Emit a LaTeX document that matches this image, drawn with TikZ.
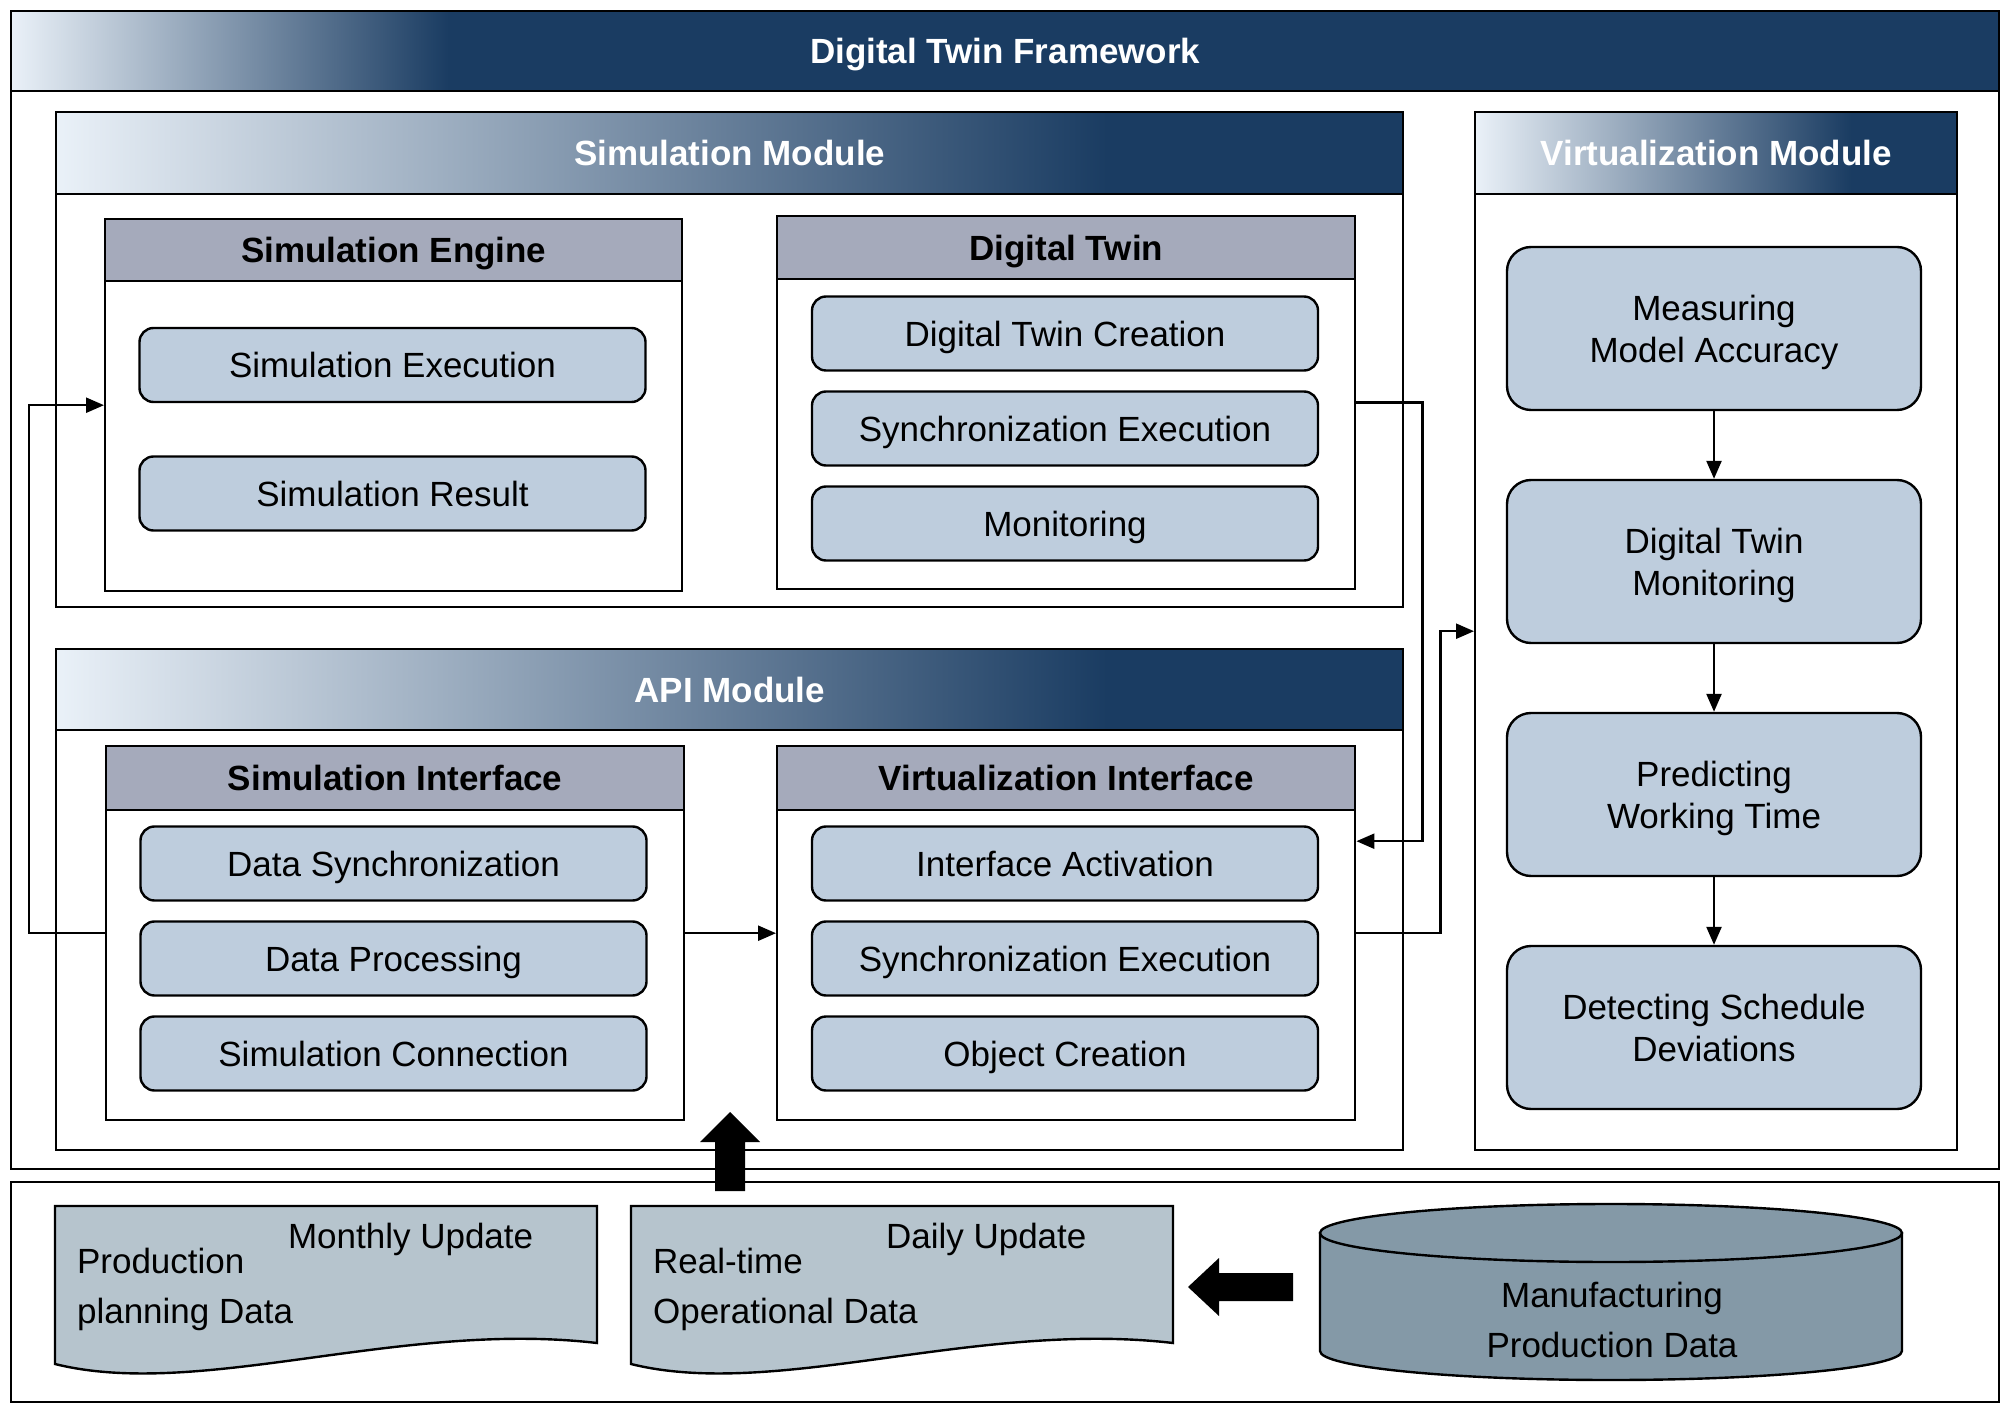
\documentclass[tikz,border=0pt]{standalone}
\usepackage{fontspec}
\setmainfont{Liberation Sans}
\usepackage{tikz}
\usetikzlibrary{arrows.meta, positioning}

\definecolor{hdrlight}{RGB}{234,241,248}
\definecolor{hdrdark}{RGB}{26,60,98}
\definecolor{hdrgrey}{RGB}{165,170,187}
\definecolor{itemfill}{RGB}{190,205,221}
\definecolor{docfill}{RGB}{182,196,205}
\definecolor{cylfill}{RGB}{132,153,167}

\pgfdeclarehorizontalshading{topshade}{100bp}{color(0bp)=(hdrlight); color(25bp)=(hdrlight); color(36bp)=(hdrdark); color(100bp)=(hdrdark)}
\pgfdeclarehorizontalshading{modshade}{100bp}{color(0bp)=(hdrlight); color(25bp)=(hdrlight); color(64bp)=(hdrdark); color(100bp)=(hdrdark)}

\tikzset{
	every node/.style={font=\fontsize{17.5}{21}\selectfont, text depth=0pt},
	box/.style={draw, line width=1.2pt, anchor=north west, inner sep=0pt},
	tophdr/.style={shading=topshade, text=white, font=\fontsize{17.5}{21}\selectfont\bfseries},
	modhdr/.style={shading=modshade, text=white, font=\fontsize{17.5}{21}\selectfont\bfseries},
	subhdr/.style={fill=hdrgrey, font=\fontsize{17.5}{21}\selectfont\bfseries},
	item/.style={draw, line width=1.2pt, fill=itemfill, rounded corners=7pt, minimum width=253pt, minimum height=37pt, inner sep=0pt},
	stage/.style={item, rounded corners=12pt, minimum width=207pt, minimum height=81.5pt, align=center},
	doc/.style={draw, line width=1.2pt, fill=docfill},
	conn/.style={line width=1.2pt, -{Triangle[length=9pt, width=7.5pt]}}
}

\begin{document}
\begin{tikzpicture}[x=0.5pt, y=-0.5pt]
	\useasboundingbox (0,0) rectangle (2008,1411);
	
	\node[box, minimum width=994pt, minimum height=579pt] (dtf) at (10,10) {};
	\node[box, tophdr, minimum width=994pt, minimum height=40pt] (dtfhdr) at (10,10) {Digital Twin Framework};
	
	\node[box, minimum width=673.5pt, minimum height=247.5pt] (simmod) at (55,111) {};
	\node[box, modhdr, minimum width=673.5pt, minimum height=41pt] (simmodhdr) at (55,111) {Simulation Module};
	
	\node[box, minimum width=288.5pt, minimum height=186pt] (simeng) at (104,218) {};
	\node[box, subhdr, minimum width=288.5pt, minimum height=31pt] (simenghdr) at (104,218) {Simulation Engine};
	\foreach \t [count=\i] in {Simulation Execution, Simulation Result}
	\node[item] (se\i) at (392.5, 236.5+128.5*\i) {\t};
	
	\node[box, minimum width=289pt, minimum height=186.5pt] (dtwin) at (776,215) {};
	\node[box, subhdr, minimum width=289pt, minimum height=31.5pt] (dtwinhdr) at (776,215) {Digital Twin};
	\foreach \t [count=\i] in {Digital Twin Creation, Synchronization Execution, Monitoring}
	\node[item] (dt\i) at (1065, 238.5+95*\i) {\t};
	
	\node[box, minimum width=673.5pt, minimum height=250.5pt] (apimod) at (55,648) {};
	\node[box, modhdr, minimum width=673.5pt, minimum height=40.5pt] (apimodhdr) at (55,648) {API Module};
	
	\node[box, minimum width=289pt, minimum height=187pt] (simif) at (105,745) {};
	\node[box, subhdr, minimum width=289pt, minimum height=32pt] (simifhdr) at (105,745) {Simulation Interface};
	\foreach \t [count=\i] in {Data Synchronization, Data Processing, Simulation Connection}
	\node[item] (si\i) at (393.5, 768.5+95*\i) {\t};
	
	\node[box, minimum width=289pt, minimum height=187pt] (virtif) at (776,745) {};
	\node[box, subhdr, minimum width=289pt, minimum height=32pt] (virtifhdr) at (776,745) {Virtualization Interface};
	\foreach \t [count=\i] in {Interface Activation, Synchronization Execution, Object Creation}
	\node[item] (vi\i) at (1065, 768.5+95*\i) {\t};
	
	\node[box, minimum width=241pt, minimum height=519pt] (vmod) at (1474,111) {};
	\node[box, modhdr, minimum width=241pt, minimum height=41pt] (vmodhdr) at (1474,111) {Virtualization Module};
	\foreach \t [count=\i] in {{Measuring\\Model Accuracy}, {Digital Twin\\Monitoring}, {Predicting\\Working Time}, {Detecting Schedule\\Deviations}}
	\node[stage] (vm\i) at (1714, 95.5+233*\i) {\t};
	\foreach \i/\j in {1/2, 2/3, 3/4}
	\draw[conn] (vm\i.south) -- (vm\j.north);
	
	\draw[conn] (simif.west) -- ++(-76,0) |- (simeng.west);
	\draw[conn] (simif.east) -- (virtif.west);
	\draw[conn] (dtwin.east) -- ++(66,0) |- ([yshift=46pt]virtif.east);
	\draw[conn] (virtif.east) -- ++(84,0) |- (vmod.west);
	
	\node[box, minimum width=994pt, minimum height=110pt] (src) at (10,1181) {};
	
	\foreach \x in {0, 288}
	\draw[doc, xshift=\x pt] (55,1206) -- (597,1206) -- (597,1343) .. controls (400,1320) and (200,1400) .. (55,1364) -- cycle;
	
	\node[anchor=west] (planupd) at (281,1236) {Monthly Update};
	\node[anchor=west, align=left, font=\fontsize{17.5}{25}\selectfont] (plan) at (70,1286) {Production\\planning Data};
	\node[anchor=west] (operupd) at (879,1236) {Daily Update};
	\node[anchor=west, align=left, font=\fontsize{17.5}{25}\selectfont] (oper) at (646,1286) {Real-time\\Operational Data};
	
	\draw[doc, fill=cylfill] (1320,1233) -- (1320,1351) arc[start angle=180, end angle=0, x radius=291, y radius=29] -- (1902,1233) -- cycle;
	\draw[doc, fill=cylfill] (1611,1233) ellipse [x radius=291, y radius=29];
	\node[align=center, font=\fontsize{17.5}{25}\selectfont] (mpd) at (1612,1320) {Manufacturing\\Production Data};
	
	\fill (1188,1287) -- (1219,1258) -- (1219,1273) -- (1293,1273) -- (1293,1301) -- (1219,1301) -- (1219,1316) -- cycle;
	\fill (730,1112) -- (760,1142) -- (745,1142) -- (745,1191) -- (715,1191) -- (715,1142) -- (700,1142) -- cycle;
\end{tikzpicture}
\end{document}
